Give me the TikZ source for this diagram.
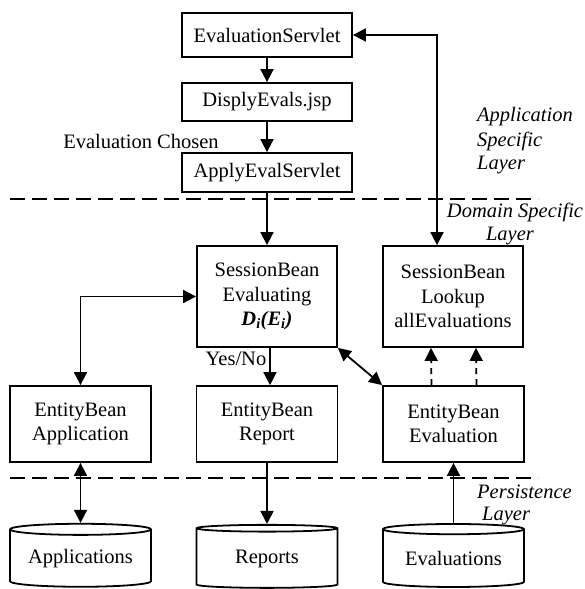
\documentclass[tikz,border=0pt]{standalone}
\usepackage{fontspec}
\setmainfont{Liberation Serif}
\usetikzlibrary{arrows.meta,shapes.geometric}
\begin{document}
\begin{tikzpicture}[x=1pt,y=-1pt,
  every node/.style={font=\fontsize{20.5}{24.5}\selectfont},
  box/.style={draw,line width=1.8pt,inner sep=0pt,align=center},
  topbox/.style={box,minimum width=170pt},
  midbox/.style={box,minimum width=140pt,minimum height=101pt},
  entbox/.style={box,minimum width=141pt,minimum height=76pt},
  store/.style={draw,line width=1.8pt,cylinder,shape border rotate=90,aspect=0.106,
     minimum width=141pt,minimum height=63pt,inner sep=0pt},
  conn/.style={line width=1.8pt,-{Triangle[length=13pt,width=13pt]}},
  dconn/.style={line width=1.8pt,{Triangle[length=13pt,width=13pt]}-{Triangle[length=13pt,width=13pt]}},
  dashconn/.style={conn,dash pattern=on 6pt off 5pt},
  layer/.style={line width=1.8pt,dash pattern=on 15pt off 7pt},
  lbl/.style={font=\fontsize{20.5}{24.5}\selectfont\itshape,inner sep=0pt}
]
\useasboundingbox (0,0) rectangle (585,589);
% layer lines
\coordinate (l1a) at (10,199); \coordinate (l1b) at (538,199);
\coordinate (l2a) at (10,478); \coordinate (l2b) at (538,478);
\draw[layer] (l1a) -- (l1b);
\draw[layer] (l2a) -- (l2b);
% top boxes
\node[topbox,minimum height=44pt] (es) at (267,35) {EvaluationServlet};
\node[topbox,minimum height=38pt] (disp) at (267,102) {DisplyEvals.jsp};
\node[topbox,minimum height=39pt] (apply) at (267,172.5) {ApplyEvalServlet};
% middle boxes
\node[midbox] (evaluating) at (267,296.5) {SessionBean\\Evaluating\\\textbf{\textit{D\textsubscript{i}(E\textsubscript{i})}}};
\node[midbox] (lookup) at (453,296.5) {SessionBean\\Lookup\\allEvaluations};
% entity boxes
\node[entbox] (app) at (80.5,424) {EntityBean\\Application};
\node[entbox] (rep) at (267,424) {EntityBean\\Report};
\node[entbox] (eval) at (453.5,424) {EntityBean\\Evaluation};
% stores
\node[store] (apps) at (80.5,558.5) {\raisebox{-7pt}{Applications}};
\node[store] (reps) at (267,558.5) {\raisebox{-7pt}{Reports}};
\node[store] (evals) at (453.5,558.5) {\raisebox{-7pt}{Evaluations}};
% labels
\node[inner sep=0pt] (chosen) at (141,141) {Evaluation Chosen};
\node[lbl,anchor=west] (asl1) at (477,117) {Application};
\node[lbl,anchor=west] (asl2) at (477,141) {Specific};
\node[lbl,anchor=west] (asl3) at (477,165) {Layer};
\node[lbl] (dsl1) at (515,212) {Domain Specific};
\node[lbl] (dsl2) at (510,236) {Layer};
\node[lbl,anchor=west] (psl1) at (477,492) {Persistence};
\node[lbl,anchor=west] (psl2) at (482,516) {Layer};
\node[inner sep=0pt] (yesno) at (236,359) {Yes/No};
% connectors
\draw[conn] (es) -- (disp);
\draw[conn] (disp) -- (apply);
\draw[conn] (apply) -- (evaluating);
\draw[dconn] (es.east) -| ([xshift=-16pt]lookup.north);
\draw[dconn] (evaluating.west) -| (app.north);
\draw[conn] ([xshift=3pt]evaluating.south) -- ([xshift=3pt]rep.north);
\draw[dconn] (evaluating.south east) -- (eval.north west);
\draw[dashconn] ([xshift=-22pt]eval.north) -- ([xshift=-22pt]lookup.south);
\draw[dashconn] ([xshift=23pt]eval.north) -- ([xshift=23pt]lookup.south);
\draw[dconn] (app) -- (apps.top);
\draw[conn] (rep) -- (reps.top);
\draw[conn] (evals.top) -- (eval);
\end{tikzpicture}
\end{document}
